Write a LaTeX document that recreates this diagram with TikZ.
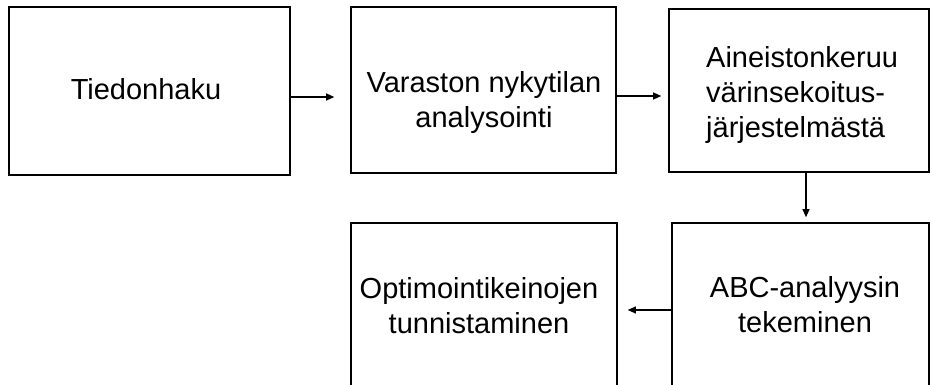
\documentclass[tikz,border=0pt]{standalone}
\usepackage{fontspec}
\setmainfont{Liberation Sans}
\usetikzlibrary{arrows.meta}

\begin{document}
\begin{tikzpicture}[x=1pt, y=-1pt,
  box/.style={draw, line width=1.6pt, inner sep=0pt},
  lbl/.style={inner sep=0pt, align=center, font=\fontsize{29}{35}\selectfont},
  arr/.style={line width=1.1pt, -{Triangle[length=8pt, width=7pt]}}]
\useasboundingbox (0,0) rectangle (932,385);
\clip (0,0) rectangle (932,385);

% boxes
\node[box, minimum width=281, minimum height=168] (tiedon) at (149.5,91) {};
\node[box, minimum width=265, minimum height=166] (varasto) at (483.5,90) {};
\node[box, minimum width=260, minimum height=163] (aineisto) at (799,90.5) {};
\node[box, minimum width=266, minimum height=170] (optim) at (484,308) {};
\node[box, minimum width=257, minimum height=170] (abc) at (800.5,308) {};

% texts
\node[lbl] (tiedon-t) at (146,89) {Tiedonhaku};
\node[lbl] (varasto-t) at (484,103) {Varaston nykytilan\\analysointi};
\node[lbl, align=left, anchor=west] (aineisto-t) at (706,95.3) {Aineistonkeruu\\värinsekoitus-\\järjestelmästä};
\node[lbl] (optim-t) at (479,305.3) {Optimointikeinojen\\tunnistaminen};
\node[lbl] (abc-t) at (805,304.3) {ABC-analyysin\\tekeminen};

% arrows
\draw[arr, shorten >=16pt] ([yshift=-6pt]tiedon.east) -- ([yshift=-6pt]tiedon.east -| varasto.west);
\draw[arr, shorten >=7pt] ([yshift=-6pt]varasto.east) -- ([yshift=-6pt]varasto.east -| aineisto.west);
\draw[arr, shorten >=5pt] ([xshift=7pt]aineisto.south) -- ([xshift=7pt]aineisto.south |- abc.north);
\draw[arr, shorten >=10pt] ([yshift=-2pt]abc.west) -- ([yshift=-2pt]abc.west -| optim.east);

\end{tikzpicture}
\end{document}
